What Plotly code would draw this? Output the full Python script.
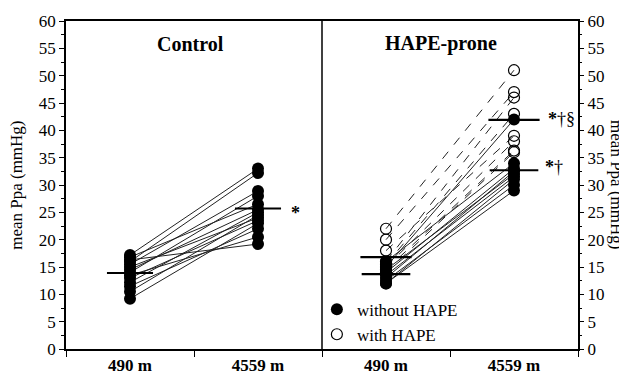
import plotly.graph_objects as go

# ---- data ----
sites = ["490 m", "4559 m"]
group_x = {"Control": [0.5, 1.5], "HAPE-prone": [2.5, 3.5]}

control_490 = [17.2, 16.8, 16.3, 16.0, 15.5, 15.0, 14.5, 14.0, 13.5, 13.0, 12.2, 11.5, 10.5, 9.2]
control_4559 = [33.0, 26.5, 19.2, 32.2, 28.9, 24.0, 25.5, 28.0, 20.5, 23.5, 25.0, 22.0, 24.5, 23.0]

noHAPE_490 = [16.0, 15.0, 14.5, 14.0, 13.5, 13.0, 12.5, 12.0, 12.0]
noHAPE_4559 = [34.0, 42.0, 32.0, 33.0, 31.5, 32.5, 30.0, 31.0, 29.0]

HAPE_490 = [22.0, 20.0, 18.0, 16.0, 15.5, 15.0, 14.5, 14.0]
HAPE_4559 = [51.0, 47.0, 39.0, 46.0, 43.0, 38.0, 36.3, 36.0]

mean_control = [13.9, 25.7]
mean_noHAPE = [13.7, 32.7]
mean_HAPE = [16.8, 41.9]

y_ticks = list(range(0, 61, 5))

SERIF = "Liberation Serif, Times New Roman, serif"

fig = go.Figure()

def add_pairs(xs, a, b, dash, filled, name, show):
    for va, vb in zip(a, b):
        fig.add_trace(go.Scatter(x=xs, y=[va, vb], mode="lines",
                                 line=dict(color="#222", width=1, dash=dash),
                                 showlegend=False, hoverinfo="skip"))
    xa = [xs[0]] * len(a) + [xs[1]] * len(b)
    ya = list(a) + list(b)
    if filled:
        marker = dict(symbol="circle", size=12, color="black", line=dict(color="black", width=0))
    else:
        marker = dict(symbol="circle-open", size=11, color="black", line=dict(color="black", width=1.2))
    fig.add_trace(go.Scatter(x=xa, y=ya, mode="markers", marker=marker,
                             name=name, showlegend=show))

add_pairs(group_x["HAPE-prone"], HAPE_490, HAPE_4559, "dash", False, "with HAPE", False)
add_pairs(group_x["Control"], control_490, control_4559, "solid", True, "control", False)
add_pairs(group_x["HAPE-prone"], noHAPE_490, noHAPE_4559, "solid", True, "without HAPE", True)
# legend entry for open symbol (placed after filled one)
fig.add_trace(go.Scatter(x=[None], y=[None], mode="markers",
                         marker=dict(symbol="circle-open", size=11, color="black", line=dict(width=1.2)),
                         name="with HAPE", showlegend=True))

# mean bars
def add_mean(xs, means, hw):
    for xc, m in zip(xs, means):
        fig.add_trace(go.Scatter(x=[xc - hw, xc + hw], y=[m, m], mode="lines",
                                 line=dict(color="black", width=2.2),
                                 showlegend=False, hoverinfo="skip"))

add_mean(group_x["Control"], mean_control, 0.18)
add_mean(group_x["HAPE-prone"], mean_noHAPE, 0.19)
add_mean(group_x["HAPE-prone"], mean_HAPE, 0.2)

ANN = dict(family=SERIF, size=18, color="black")
# significance marks
fig.add_annotation(x=1.79, y=mean_control[1] - 0.8, text="<b>*</b>", showarrow=False, font=ANN)
fig.add_annotation(x=3.87, y=mean_HAPE[1] + 0.2, text="<b>*</b>†§", showarrow=False, font=ANN)
fig.add_annotation(x=3.81, y=mean_noHAPE[1] + 0.6, text="<b>*</b>†", showarrow=False, font=ANN)

# panel titles
fig.add_annotation(x=0.97, y=55.8, text="<b>Control</b>", showarrow=False,
                   font=dict(family=SERIF, size=20, color="black"))
fig.add_annotation(x=2.93, y=55.8, text="<b>HAPE-prone</b>", showarrow=False,
                   font=dict(family=SERIF, size=20, color="black"))

# axis titles
TIT = dict(family=SERIF, size=17, color="black")
fig.add_annotation(xref="paper", yref="paper", x=-0.098, y=0.5, text="mean Ppa (mmHg)",
                   textangle=-90, showarrow=False, font=TIT, xanchor="center", yanchor="middle")
fig.add_annotation(xref="paper", yref="paper", x=1.076, y=0.5, text="mean Ppa (mmHg)",
                   textangle=90, showarrow=False, font=TIT, xanchor="center", yanchor="middle")

# divider
fig.add_shape(type="line", x0=2, x1=2, xref="x", y0=0, y1=1, yref="paper",
              line=dict(color="black", width=1.5))

fig.add_trace(go.Scatter(x=[None], y=[None], yaxis="y2", showlegend=False))

TICKF = dict(family=SERIF, size=17, color="black")
# page body has an 8px default margin, so the figure is sized to fit the window
fig.update_layout(
    template="none",
    width=619, height=366,
    margin=dict(l=58, r=49, t=13, b=25, autoexpand=False),
    paper_bgcolor="white", plot_bgcolor="white",
    showlegend=True,
    legend=dict(x=0.49, y=0.175, xanchor="left", yanchor="top",
                font=dict(family=SERIF, size=17, color="black"),
                bgcolor="rgba(0,0,0,0)", tracegroupgap=0, itemwidth=30),
    xaxis=dict(range=[0, 4], tickvals=[0.5, 1.5, 2.5, 3.5], ticktext=["<b>" + s + "</b>" for s in sites * 2],
               ticks="", showgrid=False, zeroline=False, showline=True, linecolor="black", linewidth=1.5,
               mirror=True, automargin=False,
               tickfont=dict(family=SERIF, size=17, color="black"),
               minor=dict(tickvals=[0, 1, 2, 3, 4], ticks="outside", ticklen=6, tickcolor="black", tickwidth=1.2)),
    yaxis=dict(range=[0, 60], tickvals=y_ticks, ticks="outside", ticklen=5, tickcolor="black", tickwidth=1.2,
               showgrid=False, zeroline=False, showline=True, linecolor="black", linewidth=1.5, mirror=True,
               tickfont=TICKF, automargin=False,
               minor=dict(dtick=2.5, ticks="outside", ticklen=3, tickcolor="black", tickwidth=1, showgrid=False)),
    yaxis2=dict(range=[0, 60], overlaying="y", side="right", tickvals=y_ticks, ticks="outside", ticklen=5,
                tickcolor="black", tickwidth=1.2, showgrid=False, zeroline=False, showline=False,
                tickfont=TICKF, automargin=False,
                minor=dict(dtick=2.5, ticks="outside", ticklen=3, tickcolor="black", tickwidth=1, showgrid=False)),
)

fig.write_html("out.html")
